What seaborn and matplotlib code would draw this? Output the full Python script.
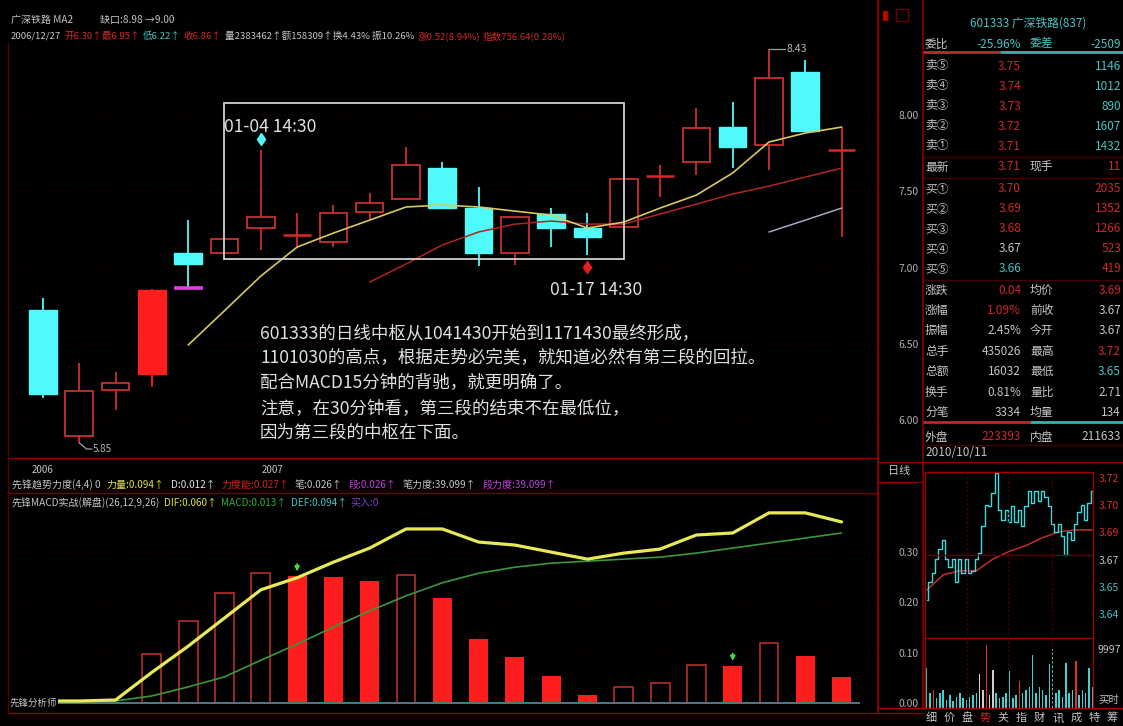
import numpy as np
import pandas as pd
import matplotlib
matplotlib.use("Agg")
import matplotlib.pyplot as plt
from matplotlib.patches import Rectangle
import seaborn as sns

# ------------------------------------------------------------------ data
days = list(range(23))
open_ = [6.721, 5.895, 6.197, 6.302, 7.095, 7.095, 7.259, 7.207, 7.167, 7.364, 7.449, 7.652,
         7.390, 7.095, 7.351, 7.259, 7.266, 7.593, 7.692, 7.921, 7.803, 8.282, 7.764]
high = [6.800, 6.374, 6.315, 6.860, 7.311, 7.200, 7.770, 7.357, 7.410, 7.489, 7.790, 7.692,
        7.528, 7.331, 7.390, 7.357, 7.685, 7.672, 8.046, 8.085, 8.430, 8.361, 7.921]
low = [6.144, 5.850, 6.066, 6.216, 6.866, 7.080, 7.115, 7.134, 7.134, 7.311, 7.449, 7.390,
       7.010, 7.016, 7.134, 7.082, 7.230, 7.462, 7.607, 7.652, 7.639, 7.895, 7.200]
close = [6.170, 6.190, 6.243, 6.852, 7.023, 7.187, 7.331, 7.220, 7.357, 7.423, 7.672, 7.390,
         7.095, 7.331, 7.259, 7.200, 7.580, 7.607, 7.915, 7.790, 8.243, 7.895, 7.777]
solid_up_days = [3]
magenta_mark_day = 4
ma_short = [np.nan] * 4 + [6.492, 6.717, 6.944, 7.134, 7.226, 7.311, 7.397, 7.410, 7.397, 7.370,
                           7.344, 7.259, 7.298, 7.390, 7.475, 7.620, 7.823, 7.882, 7.921]
ma_long = [np.nan] * 9 + [6.905, 7.023, 7.148, 7.233, 7.285, 7.305, 7.285, 7.285, 7.351, 7.416,
                          7.482, 7.534, 7.593, 7.652]
ma_third = [np.nan] * 20 + [7.233, 7.311, 7.390]
zs_days = [5, 16]
zs_prices = [7.056, 8.080]
mark_start_day = 6
mark_end_day = 15
price_ticks = [6.00, 6.50, 7.00, 7.50, 8.00]

dif = [0.004, 0.004, 0.006, 0.061, 0.113, 0.169, 0.225, 0.249, 0.280, 0.308, 0.346, 0.346,
       0.320, 0.314, 0.300, 0.286, 0.298, 0.306, 0.334, 0.338, 0.378, 0.378, 0.360]
dea = [0.002, 0.002, 0.004, 0.014, 0.032, 0.052, 0.085, 0.117, 0.151, 0.183, 0.213, 0.239,
       0.258, 0.270, 0.278, 0.282, 0.286, 0.290, 0.298, 0.308, 0.318, 0.328, 0.338]
macd_hist = [0.0, 0.0, 0.0, 0.097, 0.163, 0.219, 0.258, 0.252, 0.250, 0.243, 0.254, 0.209,
             0.127, 0.091, 0.054, 0.016, 0.032, 0.040, 0.076, 0.074, 0.119, 0.093, 0.052]
macd_signal_days = [7, 19]
macd_ticks = [0.00, 0.10, 0.20, 0.30]

intraday_price = [3.654, 3.663, 3.668, 3.675, 3.680, 3.685, 3.675, 3.671, 3.675, 3.663,
                  3.675, 3.668, 3.675, 3.668, 3.669, 3.675, 3.678, 3.692, 3.703, 3.702,
                  3.709, 3.719, 3.700, 3.695, 3.700, 3.694, 3.702, 3.694, 3.700, 3.692,
                  3.702, 3.710, 3.704, 3.710, 3.705, 3.710, 3.707, 3.702, 3.693, 3.689,
                  3.693, 3.687, 3.677, 3.689, 3.685, 3.693, 3.699, 3.703, 3.695, 3.704, 3.710]
intraday_avg = [3.659, 3.667, 3.669, 3.669, 3.675, 3.679, 3.682, 3.686, 3.689, 3.690, 3.690]
intraday_vol = [6100, 2200, 2700, 1500, 2200, 2700, 1200, 2000, 1000, 1700,
                2200, 1500, 1200, 1700, 2000, 2200, 5100, 2700, 9500, 2000,
                5800, 2200, 1500, 1700, 2200, 5600, 1500, 2000, 4100, 2200,
                2700, 3200, 8000, 2200, 3200, 2700, 2000, 6600, 9000, 2200,
                2700, 1700, 6800, 2200, 2700, 7100, 2000, 2700, 2200, 6100, 3200]
red_tick_idx = [2, 18, 28, 45]
flat_tick_idx = [16, 17, 19, 20]
intraday_tick_labels = ["3.72", "3.70", "3.69", "3.67", "3.65", "3.64"]
intraday_tick_colors = ["#D83030", "#D83030", "#D83030", "#C0C0C0", "#40C0C0", "#40C0C0"]

ask_labels = ["卖⑤", "卖④", "卖③", "卖②", "卖①"]
ask_prices = [3.75, 3.74, 3.73, 3.72, 3.71]
ask_vols = [1146, 1012, 890, 1607, 1432]
bid_labels = ["买①", "买②", "买③", "买④", "买⑤"]
bid_prices = [3.70, 3.69, 3.68, 3.67, 3.66]
bid_vols = [2035, 1352, 1266, 523, 419]
prev_close = 3.67

# ------------------------------------------------------------------ style
sns.set_theme(style="dark", rc={
    "figure.facecolor": "black", "axes.facecolor": "black", "savefig.facecolor": "black",
    "axes.grid": False, "axes.edgecolor": "black", "text.color": "#C8C8C8",
    "xtick.color": "#B0B0B0", "ytick.color": "#B0B0B0"})
plt.rcParams["font.family"] = ["Noto Sans CJK SC", "DejaVu Sans"]
plt.rcParams["axes.unicode_minus"] = False

RED = "#FF1E1E"
RED_H = "#C83030"
CYAN = "#50FAFA"
GREY = "#C4C4C4"
TEAL = "#48C4C4"
DRED = "#7A0000"

W, H = 1123, 726
fig = plt.figure(figsize=(W / 100, H / 100), dpi=100)


def px_axes(x0, y0, x1, y1, z=1):
    a = fig.add_axes([x0 / W, 1 - y1 / H, (x1 - x0) / W, (y1 - y0) / H], zorder=z)
    a.set_facecolor("black")
    for s in a.spines.values():
        s.set_visible(False)
    return a


XLIM = (-0.964, 23.003)

# ------------------------------------------------------------------ main price panel
ax = px_axes(8, 42, 878, 458)
for t in price_ticks:
    ax.axhline(t, color="#3A0000", lw=0.8, ls=(0, (1, 3)), zorder=0)

bw = 0.76
for i in days:
    o, h, l, c = open_[i], high[i], low[i], close[i]
    top, bot = max(o, c), min(o, c)
    if c >= o:
        if i in solid_up_days:
            ax.vlines(i, l, h, color=RED, lw=1.3, zorder=2)
            ax.add_patch(Rectangle((i - bw / 2, bot), bw, top - bot, facecolor=RED,
                                   edgecolor=RED, lw=1, zorder=3))
        elif top - bot < 0.02:
            ax.vlines(i, l, h, color="#D82828", lw=1.3, zorder=2)
            ax.hlines((o + c) / 2, i - bw / 2, i + bw / 2, color="#D82828", lw=1.8, zorder=3)
        else:
            ax.vlines(i, top, h, color=RED_H, lw=1.3, zorder=2)
            ax.vlines(i, l, bot, color=RED_H, lw=1.3, zorder=2)
            ax.add_patch(Rectangle((i - bw / 2, bot), bw, top - bot, facecolor="none",
                                   edgecolor=RED_H, lw=1.3, zorder=3))
    else:
        ax.vlines(i, l, h, color=CYAN, lw=1.3, zorder=2)
        ax.add_patch(Rectangle((i - bw / 2, bot), bw, top - bot, facecolor=CYAN,
                               edgecolor=CYAN, lw=1, zorder=3))

ax.hlines(low[magenta_mark_day], magenta_mark_day - 0.4, magenta_mark_day + 0.4,
          color="#E040E0", lw=2.6, zorder=4)

df_ma = pd.DataFrame({"day": days, "ma_short": ma_short, "ma_long": ma_long, "ma_third": ma_third})
sns.lineplot(data=df_ma.dropna(subset=["ma_long"]), x="day", y="ma_long", ax=ax,
             color="#B02424", lw=1.1, legend=False, zorder=4)
sns.lineplot(data=df_ma.dropna(subset=["ma_third"]), x="day", y="ma_third", ax=ax,
             color="#A8A8C8", lw=1.1, legend=False, zorder=4)
sns.lineplot(data=df_ma.dropna(subset=["ma_short"]), x="day", y="ma_short", ax=ax,
             color="#D8C860", lw=1.2, legend=False, zorder=5)

ax.add_patch(Rectangle((zs_days[0], zs_prices[0]), zs_days[1] - zs_days[0],
                       zs_prices[1] - zs_prices[0], fill=False, edgecolor="#D0D0D0",
                       lw=1.3, zorder=6))

# signal pins
ax.plot(mark_start_day, high[mark_start_day] + 0.07, marker="d", ms=6, color=CYAN, zorder=6)
ax.plot(mark_end_day, low[mark_end_day] - 0.08, marker="d", ms=6, color="#E02020", zorder=6)

# extreme labels
imax = int(np.argmax(high))
imin = int(np.argmin(low))
ax.plot([imax, imax + 0.45], [high[imax], high[imax]], color="#A0A0A0", lw=0.9, zorder=6)
ax.text(imax + 0.47, high[imax], f"{high[imax]:.2f}", color="#B8B8B8", fontsize=7.5,
        va="center", ha="left", zorder=6)
ax.plot([imin, imin + 0.2, imin + 0.35], [low[imin], low[imin] - 0.04, low[imin] - 0.04],
        color="#A0A0A0", lw=0.9, zorder=6)
ax.text(imin + 0.37, low[imin] - 0.04, f"{low[imin]:.2f}", color="#B8B8B8", fontsize=7,
        va="center", ha="left", zorder=6)

ax.set_xlim(*XLIM)
ax.set_ylim(5.751, 8.479)
ax.set(xlabel="", ylabel="")
ax.set_xticks([])
ax.yaxis.tick_right()
ax.set_yticks(price_ticks)
ax.set_yticklabels([f"{t:.2f}" for t in price_ticks], color="#B0B0B0", fontsize=7.5)
ax.tick_params(axis="y", length=0, pad=15)

# ------------------------------------------------------------------ MACD panel
axm = px_axes(8, 493, 878, 713)
for t in macd_ticks[1:]:
    axm.axhline(t, color="#3A0000", lw=0.8, ls=(0, (1, 3)), zorder=0)
for i, v in enumerate(macd_hist):
    if v <= 0:
        continue
    prev = macd_hist[i - 1] if i > 0 else 0.0
    if v > prev:
        axm.bar(i, v, width=0.52, facecolor="none", edgecolor=RED_H, lw=1.1, zorder=2)
    else:
        axm.bar(i, v, width=0.52, color=RED, lw=0, zorder=2)
axm.hlines(0, XLIM[0], 22.5, color="#507888", lw=1.4, zorder=3)

df_macd = pd.DataFrame({"day": days, "dif": dif, "dea": dea})
sns.lineplot(data=df_macd, x="day", y="dea", ax=axm, color="#3C963C", lw=1.2,
             legend=False, zorder=4)
sns.lineplot(data=df_macd, x="day", y="dif", ax=axm, color="#E8E858", lw=2.3,
             legend=False, zorder=5)
for d in macd_signal_days:
    axm.annotate("", xy=(d, macd_hist[d] + 0.004), xytext=(d, macd_hist[d] + 0.03),
                 arrowprops=dict(arrowstyle="-|>", color="#40E040", lw=1.2,
                                 mutation_scale=7), zorder=6)
axm.set_xlim(*XLIM)
axm.set_ylim(-0.0199, 0.4175)
axm.set(xlabel="", ylabel="")
axm.set_xticks([])
axm.yaxis.tick_right()
axm.set_yticks(macd_ticks)
axm.set_yticklabels([f"{t:.2f}" for t in macd_ticks], color="#B0B0B0", fontsize=7.5)
axm.tick_params(axis="y", length=0, pad=15)

# ------------------------------------------------------------------ intraday mini chart
axp = px_axes(925, 472, 1093, 638)
mins = np.arange(len(intraday_price))
df_in = pd.DataFrame({"t": mins, "p": intraday_price})
sns.lineplot(data=df_in, x="t", y="p", ax=axp, color="#40D8D8", lw=1.0,
             drawstyle="steps-mid", legend=False, zorder=3)
df_avg = pd.DataFrame({"t": mins[::5], "p": intraday_avg})
sns.lineplot(data=df_avg, x="t", y="p", ax=axp, color="#C03030", lw=1.1, legend=False, zorder=2)
axp.set_xlim(-0.5, 50.2)
axp.set_ylim(3.6345, 3.7197)
axp.set(xlabel="", ylabel="")
axp.set_xticks([])
axp.yaxis.tick_right()
tick_pos = np.linspace(3.7166, 3.6468, len(intraday_tick_labels))
axp.set_yticks(tick_pos)
axp.set_yticklabels(intraday_tick_labels, fontsize=7.5)
for lab, col in zip(axp.get_yticklabels(), intraday_tick_colors):
    lab.set_color(col)
axp.tick_params(axis="y", length=0, pad=4)

axv = px_axes(925, 640, 1093, 708)
vcols = []
for i in range(len(intraday_vol)):
    if i in red_tick_idx:
        vcols.append("#E03030")
    elif i in flat_tick_idx:
        vcols.append("#D0D0D0")
    else:
        vcols.append("#40D0D0")
axv.bar(mins, intraday_vol, width=0.45, color=vcols, lw=0)
axv.set_xlim(-0.5, 50.2)
axv.set_ylim(0, 10300)
axv.set_xticks([])
axv.set_yticks([])

# ------------------------------------------------------------------ overlay (frames + texts)
ov = fig.add_axes([0, 0, 1, 1], zorder=20)
ov.set_xlim(0, W)
ov.set_ylim(H, 0)
ov.axis("off")
renderer = fig.canvas.get_renderer()


def hl(y, x0, x1, c=DRED, lw=1.0, ls="-"):
    ov.plot([x0, x1], [y, y], color=c, lw=lw, ls=ls, solid_capstyle="butt")


def vl(x, y0, y1, c=DRED, lw=1.0, ls="-"):
    ov.plot([x, x], [y0, y1], color=c, lw=lw, ls=ls, solid_capstyle="butt")


def seq_text(x, y, segs, fs, gap=3):
    for txt, col in segs:
        t = ov.text(x, y, txt, color=col, fontsize=fs, va="center", ha="left")
        bb = t.get_window_extent(renderer=renderer)
        x += bb.width + gap


vl(8, 42, 713, "#5A0000")
vl(878, 0, 713, "#A00000", 1.2)
vl(923, 0, 708, "#8A0000", 1.2)
hl(458, 8, 878, "#8A0000")
hl(493, 8, 878, "#7A0000")
hl(713, 8, 923, "#8A0000")
# info panel separators
hl(52, 923, 1000, "#C02828", 2)
hl(52, 1000, 1123, "#3CB0B0", 2)
hl(157, 923, 1123, "#4A0000")
hl(178, 923, 1123, "#4A0000")
hl(280, 923, 1123, "#4A0000")
hl(422, 923, 1030, "#C02828", 2)
hl(422, 1030, 1123, "#3CB0B0", 2)
hl(445, 923, 1123, "#4A0000")
hl(462, 878, 1123, "#8A0000")
hl(482, 878, 923, "#8A0000")
# mini chart frame
hl(472, 925, 1093, "#A00000")
hl(555, 925, 1093, "#600000")
hl(638, 925, 1093, "#A00000")
hl(708, 878, 1123, "#A00000")
vl(925, 472, 708, "#A00000")
vl(1093, 472, 708, "#A00000")
for xx in [967, 1008, 1052]:
    vl(xx, 472, 708, "#4A0000", 0.8, (0, (2, 2)))

# header
seq_text(11, 20, [("广深铁路 MA2", GREY)], 7.2)
seq_text(100, 20, [("缺口:8.98 →9.00", GREY)], 7.2)
seq_text(11, 36, [("2006/12/27", GREY), ("开6.30↑最6.95↑", "#D02828"),
                  ("低6.22↑", TEAL), ("收6.86↑", "#D02828"),
                  ("量2383462↑额158309↑换4.43% 振10.26%", GREY),
                  ("涨0.52(8.94%)", "#D02828"), ("指数756.64(0.28%)", "#D02828")], 6.9, gap=3)

# annotations on the price chart
ov.text(224, 127, "01-04 14:30", color="#E0E0E0", fontsize=12.6, va="center")
ov.text(550, 290, "01-17 14:30", color="#E0E0E0", fontsize=12.6, va="center")
notes = ["601333的日线中枢从1041430开始到1171430最终形成，",
         "1101030的高点，根据走势必完美，就知道必然有第三段的回拉。",
         "配合MACD15分钟的背驰，就更明确了。",
         "注意，在30分钟看，第三段的结束不在最低位，",
         "因为第三段的中枢在下面。"]
for k, line in enumerate(notes):
    ov.text(260, 333 + k * 25, line, color="#E0E0E0", fontsize=12.6, va="center")

# date axis & indicator headers
ov.text(32, 470, "2006", color=GREY, fontsize=7, va="center")
ov.text(262, 470, "2007", color=GREY, fontsize=7, va="center")
seq_text(12, 485, [("先锋趋势力度(4,4) 0", GREY), ("力量:0.094↑", "#E0E040"),
                   ("D:0.012↑", "#E0E0E0"), ("力度能:0.027↑", "#D02020"),
                   ("笔:0.026↑", GREY), ("段:0.026↑", "#C040E0"),
                   ("笔力度:39.099↑", GREY), ("段力度:39.099↑", "#C040E0")], 7.2, gap=6)
seq_text(12, 503, [("先锋MACD实战(解盘)(26,12,9,26)", GREY), ("DIF:0.060↑", "#E0E040"),
                   ("MACD:0.013↑", "#30B030"), ("DEF:0.094↑", TEAL),
                   ("买入:0", "#8040D0")], 7.2, gap=4)
ov.text(10, 703, "先锋分析师", color=GREY, fontsize=6.8, va="center", zorder=30,
        bbox=dict(facecolor="black", edgecolor="none", pad=0.5))

# right info panel
FS = 8.5
ov.text(882, 15, "▮", color="#D00000", fontsize=9, va="center")
ov.add_patch(Rectangle((896, 9), 12, 12, fill=False, edgecolor="#700000", lw=1))
ov.text(1028, 23, "601333 广深铁路(837)", color=TEAL, fontsize=FS, ha="center", va="center")
ov.text(925, 44, "委比", color=GREY, fontsize=FS, va="center")
ov.text(1021, 44, "-25.96%", color=TEAL, fontsize=FS, va="center", ha="right")
ov.text(1030, 44, "委差", color=TEAL, fontsize=FS, va="center")
ov.text(1121, 44, "-2509", color=TEAL, fontsize=FS, va="center", ha="right")


def pcol(p):
    if p > prev_close + 1e-9:
        return "#D02828"
    if p < prev_close - 1e-9:
        return TEAL
    return GREY


for k, (lab, p, v) in enumerate(zip(ask_labels, ask_prices, ask_vols)):
    y = 66 + 20 * k
    ov.text(925, y, lab, color=GREY, fontsize=FS, va="center")
    ov.text(1021, y, f"{p:.2f}", color=pcol(p), fontsize=FS, va="center", ha="right")
    ov.text(1121, y, f"{v}", color=TEAL, fontsize=FS, va="center", ha="right")
ov.text(925, 167, "最新", color=GREY, fontsize=FS, va="center")
ov.text(1021, 167, "3.71", color="#D02828", fontsize=FS, va="center", ha="right")
ov.text(1030, 167, "现手", color=GREY, fontsize=FS, va="center")
ov.text(1121, 167, "11", color="#D02828", fontsize=FS, va="center", ha="right")
for k, (lab, p, v) in enumerate(zip(bid_labels, bid_prices, bid_vols)):
    y = 189 + 20 * k
    ov.text(925, y, lab, color=GREY, fontsize=FS, va="center")
    ov.text(1021, y, f"{p:.2f}", color=pcol(p), fontsize=FS, va="center", ha="right")
    ov.text(1121, y, f"{v}", color="#D02828", fontsize=FS, va="center", ha="right")

stats_left = [("涨跌", "0.04", "#D02828"), ("涨幅", "1.09%", "#D02828"), ("振幅", "2.45%", GREY),
              ("总手", "435026", GREY), ("总额", "16032", GREY), ("换手", "0.81%", GREY),
              ("分笔", "3334", GREY)]
stats_right = [("均价", "3.69", "#D02828"), ("前收", "3.67", GREY), ("今开", "3.67", GREY),
               ("最高", "3.72", "#D02828"), ("最低", "3.65", TEAL), ("量比", "2.71", GREY),
               ("均量", "134", GREY)]
for k, ((l1, v1, c1), (l2, v2, c2)) in enumerate(zip(stats_left, stats_right)):
    y = 290 + 20.4 * k
    ov.text(925, y, l1, color=GREY, fontsize=FS, va="center")
    ov.text(1021, y, v1, color=c1, fontsize=FS, va="center", ha="right")
    ov.text(1030, y, l2, color=GREY, fontsize=FS, va="center")
    ov.text(1121, y, v2, color=c2, fontsize=FS, va="center", ha="right")
ov.text(925, 437, "外盘", color=GREY, fontsize=FS, va="center")
ov.text(1021, 437, "223393", color="#D02828", fontsize=FS, va="center", ha="right")
ov.text(1030, 437, "内盘", color=GREY, fontsize=FS, va="center")
ov.text(1121, 437, "211633", color=GREY, fontsize=FS, va="center", ha="right")
ov.text(925, 453, "2010/10/11", color=GREY, fontsize=FS, va="center")
ov.text(888, 471, "日线", color=GREY, fontsize=8, va="center")
ov.text(1098, 650, "9997", color=GREY, fontsize=7.5, va="center")
ov.text(1098, 700, "买时", color=GREY, fontsize=7.5, va="center")
tabs = ["细", "价", "盘", "势", "关", "指", "财", "讯", "成", "特", "筹"]
for k, t in enumerate(tabs):
    ov.text(931 + 18.1 * k, 718, t, color="#D02828" if t == "势" else GREY, fontsize=8,
            va="center", ha="center")

fig.savefig("out.png", dpi=100, facecolor="black")
